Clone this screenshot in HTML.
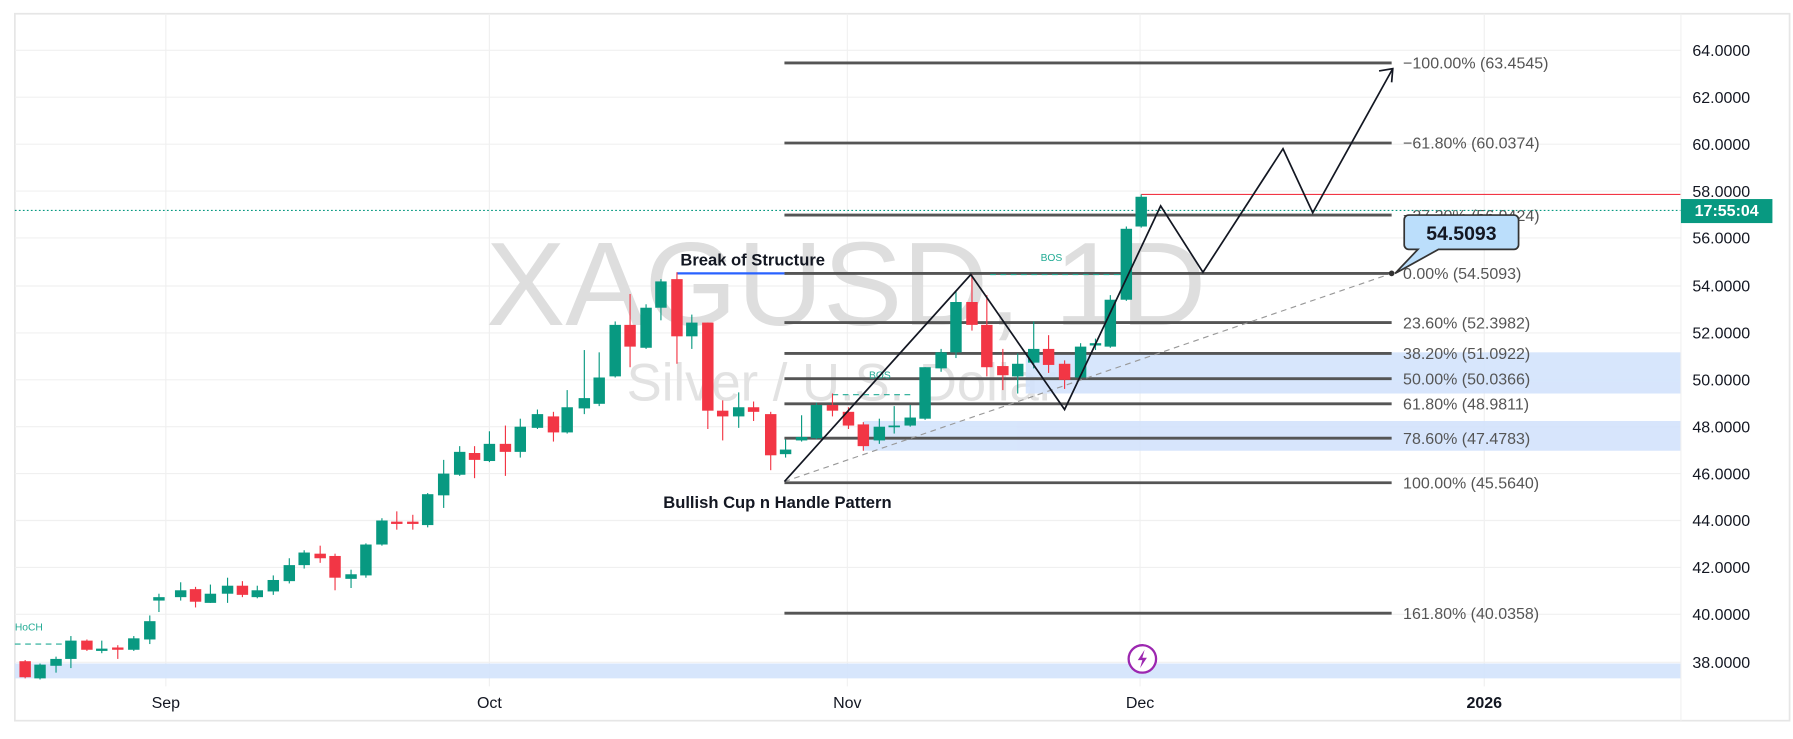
<!DOCTYPE html>
<html><head><meta charset="utf-8"><style>
html,body{margin:0;padding:0;background:#fff;}
svg{display:block;font-family:"Liberation Sans",sans-serif;}
</style></head><body>
<svg width="1793" height="739" viewBox="0 0 1568 646" preserveAspectRatio="none" xmlns="http://www.w3.org/2000/svg">
<rect x="0" y="0" width="1568" height="646" fill="#fff"/>
<rect x="13" y="12" width="1552" height="618" fill="none" stroke="#e6e6e6" stroke-width="1.5"/>
<!-- grid -->
<g stroke="#f0f0f0" stroke-width="1">
<line x1="13" x2="1470" y1="44" y2="44"/><line x1="13" x2="1470" y1="85" y2="85"/><line x1="13" x2="1470" y1="126" y2="126"/><line x1="13" x2="1470" y1="167" y2="167"/><line x1="13" x2="1470" y1="208" y2="208"/><line x1="13" x2="1470" y1="250" y2="250"/><line x1="13" x2="1470" y1="291" y2="291"/><line x1="13" x2="1470" y1="332" y2="332"/><line x1="13" x2="1470" y1="373" y2="373"/><line x1="13" x2="1470" y1="414" y2="414"/><line x1="13" x2="1470" y1="455" y2="455"/><line x1="13" x2="1470" y1="496" y2="496"/><line x1="13" x2="1470" y1="537" y2="537"/><line x1="13" x2="1470" y1="579" y2="579"/>
<line x1="145" x2="145" y1="12" y2="600"/><line x1="428" x2="428" y1="12" y2="600"/><line x1="741" x2="741" y1="12" y2="600"/><line x1="997" x2="997" y1="12" y2="600"/><line x1="1298" x2="1298" y1="12" y2="600"/>
</g>
<!-- watermark -->
<text x="425" y="284" font-size="104" fill="#dedede">XAGUSD, 1D</text>
<text x="548" y="350" font-size="46" fill="#e2e2e2">Silver / U.S. Dollar</text>
<!-- zones -->
<g fill="#d3e3fc" opacity="0.9">
<rect x="897" y="308" width="573" height="36"/>
<rect x="755" y="368" width="715" height="26"/>
<rect x="13" y="580" width="1457" height="13"/>
</g>
<!-- fib lines -->
<g stroke="#555" stroke-width="2.5">
<line x1="686" x2="1217" y1="55" y2="55"/><line x1="686" x2="1217" y1="125" y2="125"/><line x1="686" x2="1217" y1="188" y2="188"/><line x1="686" x2="1217" y1="239" y2="239"/><line x1="686" x2="1217" y1="282" y2="282"/><line x1="686" x2="1217" y1="309" y2="309"/><line x1="686" x2="1217" y1="331" y2="331"/><line x1="686" x2="1217" y1="353" y2="353"/><line x1="686" x2="1217" y1="383" y2="383"/><line x1="686" x2="1217" y1="422" y2="422"/><line x1="686" x2="1217" y1="536" y2="536"/>
</g>
<g font-size="14" fill="#555">
<text x="1227" y="60">−100.00% (63.4545)</text>
<text x="1227" y="130">−61.80% (60.0374)</text>
<text x="1227" y="193">−27.20% (56.9424)</text>
<text x="1227" y="244">0.00% (54.5093)</text>
<text x="1227" y="287">23.60% (52.3982)</text>
<text x="1227" y="314">38.20% (51.0922)</text>
<text x="1227" y="336">50.00% (50.0366)</text>
<text x="1227" y="358">61.80% (48.9811)</text>
<text x="1227" y="388">78.60% (47.4783)</text>
<text x="1227" y="427">100.00% (45.5640)</text>
<text x="1227" y="541">161.80% (40.0358)</text>
</g>
<!-- red line, price line -->
<line x1="998" x2="1470" y1="170" y2="170" stroke="#f23645" stroke-width="1"/>
<line x1="13" x2="1470" y1="184" y2="184" stroke="#089981" stroke-width="1" stroke-dasharray="1.5,2"/>
<!-- annotations -->
<line x1="592" x2="686" y1="239" y2="239" stroke="#2962ff" stroke-width="2"/>
<text x="595" y="232" font-size="14.5" font-weight="bold" fill="#131722">Break of Structure</text>
<text x="580" y="444" font-size="14.5" font-weight="bold" fill="#131722">Bullish Cup n Handle Pattern</text>
<line x1="866" x2="985" y1="240" y2="240" stroke="#22ab94" stroke-width="1" stroke-dasharray="5,4"/>
<text x="910" y="228" font-size="9" fill="#22ab94">BOS</text>
<line x1="728" x2="800" y1="345" y2="345" stroke="#22ab94" stroke-width="1" stroke-dasharray="5,4"/>
<text x="760" y="331" font-size="9" fill="#22ab94">BOS</text>
<line x1="13" x2="62" y1="563" y2="563" stroke="#22ab94" stroke-width="1" stroke-dasharray="5,4"/>
<text x="13" y="551" font-size="9" fill="#22ab94">HoCH</text>
<line x1="686" y1="421" x2="1217" y2="239" stroke="#999" stroke-width="1" stroke-dasharray="5,4"/>
<!-- candles -->
<g id="c"></g>
<!-- zigzag -->
<polyline points="686,421 849,240 931,358 1015,180 1052,238 1122,130 1148,186 1218,60" fill="none" stroke="#131722" stroke-width="1.5"/>
<polyline points="1206,62 1218,60 1217,72" fill="none" stroke="#131722" stroke-width="1.5"/>
<circle cx="1217" cy="239" r="2.5" fill="#333"/>
<path d="M1232,188 h92 a4,4 0 0 1 4,4 v22 a4,4 0 0 1 -4,4 h-66 l-38,21 l20,-21 h-8 a4,4 0 0 1 -4,-4 v-22 a4,4 0 0 1 4,-4 z" fill="#bbdefb" stroke="#333" stroke-width="1.5"/>
<text x="1278" y="210" font-size="17" font-weight="bold" fill="#131722" text-anchor="middle">54.5093</text>
<!-- lightning icon -->
<circle cx="999" cy="576" r="12" fill="#fff" stroke="#9c27b0" stroke-width="2"/>
<path d="M1001,568 l-6,9 h4 l-2,7 l6,-9 h-4 z" fill="#9c27b0"/>
<!-- axes -->
<line x1="1470" x2="1470" y1="12" y2="630" stroke="#f0f0f0"/>
<g font-size="14" fill="#131722">
<text x="1480" y="49">64.0000</text><text x="1480" y="90">62.0000</text><text x="1480" y="131">60.0000</text><text x="1480" y="172">58.0000</text><text x="1480" y="213">56.0000</text><text x="1480" y="255">54.0000</text><text x="1480" y="296">52.0000</text><text x="1480" y="337">50.0000</text><text x="1480" y="378">48.0000</text><text x="1480" y="419">46.0000</text><text x="1480" y="460">44.0000</text><text x="1480" y="501">42.0000</text><text x="1480" y="542">40.0000</text><text x="1480" y="584">38.0000</text>
</g>
<rect x="1470" y="174" width="80" height="21" fill="#089981"/>
<text x="1510" y="189" font-size="14" font-weight="bold" fill="#fff" text-anchor="middle">17:55:04</text>
<g font-size="14" fill="#131722" text-anchor="middle">
<text x="145" y="619">Sep</text><text x="428" y="619">Oct</text><text x="741" y="619">Nov</text><text x="997" y="619">Dec</text><text x="1298" y="619" font-weight="bold">2026</text>
</g>
</svg>
<script>
var d=[[22,578,592,577,593],[35,593,581,580,594],[49,582,576,574,588],[62,576,560,556,584],[76,560,568,559,569],[89,569,567,560,571],[103,566,568,564,576],[117,568,558,556,569],[131,559,543,538,563],
[139,525,522,519,535],[158,522,516,509,525],[171,515,526,513,531],[184,527,519,511,527],[199,519,512,505,527],[212,512,520,508,522],[225,522,516,512,523],[239,517,507,503,520],[253,508,494,488,510],[266,494,483,481,497],[280,484,488,477,492],[293,486,505,484,516],[307,506,502,498,514],[320,503,476,475,505],[334,476,455,453,477],[347,456,458,447,463],[361,456,458,450,463],[374,459,432,431,461],[388,433,414,402,444],[402,415,395,390,416],[415,396,402,390,418],[428,403,388,377,404],[442,388,395,372,416],[455,395,373,366,400],[470,374,362,358,375],[484,364,378,360,386],[496,378,356,341,379],[511,357,348,306,362],[524,353,330,308,355],[538,329,284,281,330],[551,284,303,257,321],[565,304,269,266,305],[578,269,246,244,280],[592,244,294,238,318],[605,294,282,275,305],
[619,282,359,282,375],[632,359,364,350,385],[646,364,356,343,374],[659,356,360,351,368],[674,362,398,360,411],[687,397,393,384,400],[701,385,382,363,386],[714,383,354,352,384],[728,354,359,344,364],[742,360,372,356,375],[755,371,390,369,394],[769,385,373,366,388],[782,373,372,355,379],[796,372,365,354,373],[809,366,321,321,367],[823,322,308,305,325],[836,308,264,255,313],[850,264,284,240,289],[863,284,321,258,329],[877,320,328,305,341],[890,329,318,309,344],[904,317,305,281,322],[917,305,319,293,326],[931,318,332,315,340],[945,330,303,300,331],[958,302,300,296,306],[971,303,262,258,304],[985,262,200,198,263],[998,198,172,170,199]];
var g=document.getElementById('c'),s='';
d.forEach(function(c){var up=c[2]<c[1],col=up?'#089981':'#f23645',t=Math.min(c[1],c[2]),h=Math.max(1.5,Math.abs(c[2]-c[1]));
s+='<line x1="'+c[0]+'" x2="'+c[0]+'" y1="'+c[3]+'" y2="'+c[4]+'" stroke="'+col+'" stroke-width="1"/>';
s+='<rect x="'+(c[0]-5)+'" y="'+t+'" width="10" height="'+h+'" fill="'+col+'"/>';});
g.innerHTML=s;
</script>
</body></html>
